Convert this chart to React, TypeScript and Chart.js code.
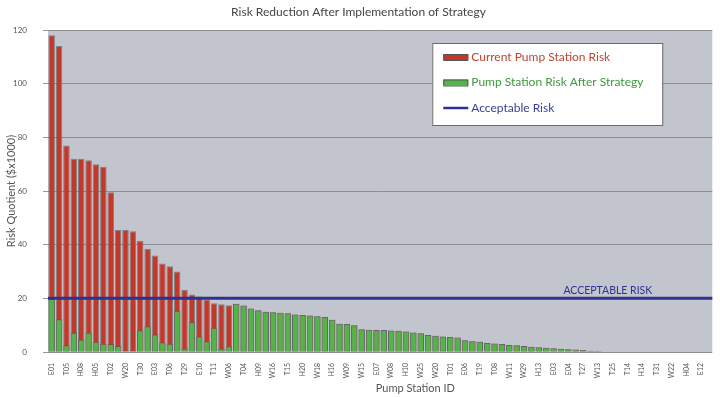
import React, { useEffect, useRef } from 'react';
import { Chart, registerables } from 'chart.js';

Chart.register(...registerables);

const TITLE = 'Risk Reduction After Implementation of Strategy';
const X_TITLE = 'Pump Station ID';
const Y_TITLE = 'Risk Quotient ($x1000)';
const SERIES_CURRENT = 'Current Pump Station Risk';
const SERIES_AFTER = 'Pump Station Risk After Strategy';
const SERIES_LIMIT = 'Acceptable Risk';
const LIMIT_LABEL = 'ACCEPTABLE RISK';

// Station IDs printed under every second bar
const SHOWN_IDS = [
  'E01', 'T05', 'H08', 'H05', 'T02', 'W20', 'T30', 'E03', 'T06', 'T29',
  'E10', 'T11', 'W06', 'T04', 'H09', 'W16', 'T15', 'H20', 'W18', 'H16',
  'W09', 'W15', 'E07', 'W08', 'H10', 'W25', 'W20', 'T01', 'E06', 'T19',
  'T08', 'W11', 'W29', 'H13', 'E03', 'E04', 'T27', 'W13', 'T25', 'T14',
  'H14', 'T31', 'W22', 'H04', 'E12',
];

const CURRENT_RISK = [
  118, 114, 77, 72, 72, 71.5, 70, 69, 59.5, 45.5,
  45.5, 45, 41.5, 38.5, 36, 33, 32, 30, 23.2, 21.4,
  20.7, 19.6, 18.2, 17.8, 17.4, 18, 17.3, 16.2, 15.6, 15,
  14.8, 14.6, 14.4, 14, 13.8, 13.6, 13.3, 13, 12, 10.5,
  10.4, 10, 8.5, 8.3, 8.2, 8.2, 8, 7.9, 7.6, 7.3,
  7, 6.3, 6.1, 5.8, 5.6, 5.4, 4.4, 4, 3.8, 3.4,
  3.2, 3, 2.6, 2.5, 2.2, 2, 1.8, 1.6, 1.4, 1.2,
  1, 0.9, 0.7, 0.5, 0.4, 0, 0, 0, 0, 0,
  0, 0, 0, 0, 0, 0, 0, 0, 0, 0,
];

const AFTER_RISK = [
  19.8, 12.2, 2.5, 7.2, 4.7, 7.2, 3.8, 3.1, 3, 2.2,
  0.6, 0.6, 8.1, 9.6, 6.5, 3.6, 3.1, 15.4, 1.3, 11.2,
  5.8, 4, 9, 1.3, 2.1, 18, 17.3, 16.2, 15.6, 15,
  14.8, 14.6, 14.4, 14, 13.8, 13.6, 13.3, 13, 12, 10.5,
  10.4, 10, 8.5, 8.3, 8.2, 8.2, 8, 7.9, 7.6, 7.3,
  7, 6.3, 6.1, 5.8, 5.6, 5.4, 4.4, 4, 3.8, 3.4,
  3.2, 3, 2.6, 2.5, 2.2, 2, 1.8, 1.6, 1.4, 1.2,
  1, 0.9, 0.7, 0.5, 0.4, 0, 0, 0, 0, 0,
  0, 0, 0, 0, 0, 0, 0, 0, 0, 0,
];

const ACCEPTABLE_RISK = 20;
const Y_MIN = 0;
const Y_MAX = 120;
const Y_STEP = 20;

const CATEGORIES = CURRENT_RISK.map((_, i) => (i % 2 === 0 ? SHOWN_IDS[i / 2] ?? '' : ''));

const RED = '#c4382a';
const GREEN = '#52b548';
const BLUE = '#2e3192';
const FONT = 'Lato, "Open Sans", sans-serif';

const plotBackground = {
  id: 'plotBackground',
  beforeDraw(chart: any) {
    const { ctx, chartArea: a } = chart;
    ctx.save();
    ctx.fillStyle = '#c2c5cd';
    ctx.fillRect(a.left, a.top, a.right - a.left, a.bottom - a.top);
    ctx.restore();
  },
};

const riskLine = {
  id: 'riskLine',
  afterDatasetsDraw(chart: any) {
    const { ctx, chartArea: a, scales } = chart;
    const y = scales.y.getPixelForValue(ACCEPTABLE_RISK);
    ctx.save();
    ctx.strokeStyle = BLUE;
    ctx.lineWidth = 3;
    ctx.beginPath();
    ctx.moveTo(a.left, y);
    ctx.lineTo(a.right, y);
    ctx.stroke();
    ctx.fillStyle = BLUE;
    ctx.font = `10.5px ${FONT}`;
    ctx.textAlign = 'right';
    ctx.textBaseline = 'alphabetic';
    ctx.fillText(LIMIT_LABEL, a.right - 60, y - 4);
    ctx.restore();
  },
};

const boxLegend = {
  id: 'boxLegend',
  afterDraw(chart: any) {
    const { ctx, chartArea: a } = chart;
    const left = a.right - 280;
    const top = a.top + 13;
    const w = 230;
    const h = 82;
    ctx.save();
    ctx.fillStyle = '#ffffff';
    ctx.strokeStyle = '#6a6a6a';
    ctx.lineWidth = 1;
    ctx.fillRect(left, top, w, h);
    ctx.strokeRect(left + 0.5, top + 0.5, w, h);
    const rows = [
      { text: SERIES_CURRENT, color: RED, textColor: '#c0442f', kind: 'box' },
      { text: SERIES_AFTER, color: GREEN, textColor: '#3d9a3d', kind: 'box' },
      { text: SERIES_LIMIT, color: BLUE, textColor: '#3a3c96', kind: 'line' },
    ];
    const offsets = [14, 39.5, 65];
    ctx.font = `12px ${FONT}`;
    ctx.textBaseline = 'middle';
    ctx.textAlign = 'left';
    rows.forEach((r, i) => {
      const cy = top + offsets[i];
      if (r.kind === 'box') {
        ctx.fillStyle = r.color;
        ctx.fillRect(left + 11, cy - 3, 25, 6);
        ctx.strokeStyle = '#555';
        ctx.strokeRect(left + 11.5, cy - 2.5, 24, 6);
      } else {
        ctx.strokeStyle = r.color;
        ctx.lineWidth = 2.5;
        ctx.beginPath();
        ctx.moveTo(left + 11, cy);
        ctx.lineTo(left + 36, cy);
        ctx.stroke();
        ctx.lineWidth = 1;
      }
      ctx.fillStyle = r.textColor;
      ctx.fillText(r.text, left + 39, cy);
    });
    ctx.restore();
  },
};

const xTitle = {
  id: 'xTitle',
  afterDraw(chart: any) {
    const { ctx, chartArea: a } = chart;
    ctx.save();
    ctx.fillStyle = '#555';
    ctx.font = `11px ${FONT}`;
    ctx.textAlign = 'center';
    ctx.textBaseline = 'middle';
    ctx.fillText(X_TITLE, a.left + (a.right - a.left) * 0.553, a.bottom + 36);
    ctx.restore();
  },
};

export default function App() {
  const canvasRef = useRef<HTMLCanvasElement | null>(null);

  useEffect(() => {
    if (!canvasRef.current) return;
    const chart = new Chart(canvasRef.current, {
      type: 'bar',
      data: {
        labels: CATEGORIES,
        datasets: [
          {
            label: SERIES_CURRENT,
            data: CURRENT_RISK,
            backgroundColor: RED,
            borderColor: 'rgba(85,85,85,0.6)',
            borderWidth: 1,
            barPercentage: 0.88,
            categoryPercentage: 1,
            order: 2,
          },
          {
            label: SERIES_AFTER,
            data: AFTER_RISK,
            backgroundColor: GREEN,
            borderColor: 'rgba(85,85,85,0.6)',
            borderWidth: 1,
            barPercentage: 0.88,
            categoryPercentage: 1,
            order: 1,
          },
        ],
      },
      options: {
        animation: false,
        responsive: true,
        maintainAspectRatio: false,
        layout: { padding: { top: 0, right: 3, left: 0, bottom: 0 } },
        plugins: {
          legend: { display: false },
          tooltip: { enabled: false },
          title: {
            display: true,
            text: TITLE,
            color: '#444',
            font: { family: FONT, size: 12, weight: 'normal' },
            padding: { top: 5, bottom: 10.6 },
          },
        },
        scales: {
          x: {
            stacked: true,
            offset: true,
            grid: { display: false },
            border: { display: false },
            ticks: {
              autoSkip: false,
              maxRotation: 90,
              minRotation: 90,
              color: '#555',
              font: { family: FONT, size: 7 },
              padding: 3,
            },
            afterFit: (s: any) => {
              s.height = 45;
            },
          },
          y: {
            stacked: false,
            min: Y_MIN,
            max: Y_MAX,
            ticks: {
              stepSize: Y_STEP,
              color: '#555',
              font: { family: FONT, size: 8 },
              padding: 16,
            },
            grid: { color: '#8b8e95', tickColor: '#999', tickLength: 5 },
            border: { display: false },
            title: {
              display: true,
              text: Y_TITLE,
              color: '#555',
              font: { family: FONT, size: 11 },
              padding: { top: 5, bottom: 0 },
            },
            afterFit: (s: any) => {
              s.width = 48;
            },
          },
        },
      },
      plugins: [plotBackground, riskLine, boxLegend, xTitle],
    });
    return () => chart.destroy();
  }, []);

  return (
    <div style={{ position: 'absolute', left: 0, top: 0, width: 720, height: 397, background: '#fff' }}>
      <canvas ref={canvasRef} />
    </div>
  );
}
